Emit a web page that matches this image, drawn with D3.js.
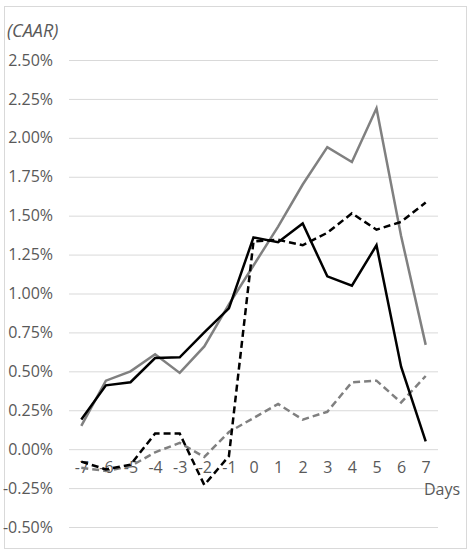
<!DOCTYPE html>
<html>
<head>
<meta charset="utf-8">
<script src="https://cdn.jsdelivr.net/npm/d3@7"></script>
<style>
  body { margin: 0; background: #fff; }
  svg { display: block; }
</style>
</head>
<body>
<div id="chart-area"></div>
<script>
// data (CAAR in %)
const days = [-7, -6, -5, -4, -3, -2, -1, 0, 1, 2, 3, 4, 5, 6, 7];
const blackSolid = [0.19, 0.41, 0.43, 0.585, 0.59, 0.75, 0.905, 1.36, 1.33, 1.45, 1.11, 1.05, 1.31, 0.53, 0.05];
const graySolid = [0.15, 0.44, 0.50, 0.61, 0.49, 0.66, 0.93, 1.18, 1.43, 1.70, 1.94, 1.845, 2.19, 1.37, 0.67];
const blackDashed = [-0.08, -0.13, -0.10, 0.10, 0.10, -0.23, -0.045, 1.335, 1.345, 1.31, 1.39, 1.515, 1.41, 1.46, 1.585];
const grayDashed = [-0.12, -0.14, -0.11, -0.02, 0.04, -0.05, 0.11, 0.20, 0.29, 0.19, 0.24, 0.43, 0.44, 0.30, 0.47];
const yTicks = [-0.5, -0.25, 0, 0.25, 0.5, 0.75, 1.0, 1.25, 1.5, 1.75, 2.0, 2.25, 2.5];

const WIDTH = 469, HEIGHT = 551;
const PLOT = { LEFT: 69, RIGHT: 438, TOP: 60, BOTTOM: 527 };
const FONT = "'Open Sans', 'Liberation Sans', sans-serif";
const TEXT_COLOR = "#595959";

const svg = d3.select("#chart-area")
  .append("svg")
    .attr("width", WIDTH)
    .attr("height", HEIGHT);

// chart border
svg.append("rect")
  .attr("x", 4.5).attr("y", 6.5)
  .attr("width", 462).attr("height", 542)
  .attr("fill", "#fff")
  .attr("stroke", "#d9d9d9");

// scales
const x = d3.scalePoint()
  .domain(days)
  .range([PLOT.LEFT, PLOT.RIGHT])
  .padding(0.5);

const y = d3.scaleLinear()
  .domain([-0.5, 2.5])
  .range([PLOT.BOTTOM, PLOT.TOP]);

// gridlines + y labels
const yAxisCall = d3.axisLeft(y)
  .tickValues(yTicks)
  .tickSize(-(PLOT.RIGHT - PLOT.LEFT))
  .tickPadding(16)
  .tickFormat(d => d.toFixed(2) + "%");

const yAxis = svg.append("g")
  .attr("class", "y-axis")
  .attr("transform", `translate(${PLOT.LEFT}, 0)`)
  .call(yAxisCall);
yAxis.select(".domain").remove();
yAxis.selectAll("line").attr("stroke", "#d9d9d9").attr("stroke-width", 1);
yAxis.selectAll("text")
  .attr("font-family", FONT)
  .attr("font-size", "16px")
  .attr("fill", TEXT_COLOR);

// x labels sit just under the zero line
const xAxisCall = d3.axisBottom(x).tickSize(0).tickPadding(12);
const xAxis = svg.append("g")
  .attr("class", "x-axis")
  .attr("transform", `translate(0, ${y(0)})`)
  .call(xAxisCall);
xAxis.select(".domain").remove();
xAxis.selectAll("text")
  .attr("font-family", FONT)
  .attr("font-size", "16px")
  .attr("fill", TEXT_COLOR);

// axis titles
svg.append("text")
  .attr("x", 7)
  .attr("y", 37)
  .attr("font-family", FONT)
  .attr("font-size", "18px")
  .attr("font-style", "italic")
  .attr("fill", TEXT_COLOR)
  .text("(CAAR)");

svg.append("text")
  .attr("x", 424)
  .attr("y", 495)
  .attr("font-family", FONT)
  .attr("font-size", "16px")
  .attr("fill", TEXT_COLOR)
  .text("Days");

// lines
const line = d3.line()
  .x((d, i) => x(days[i]))
  .y(d => y(d));

const series = [
  { values: grayDashed, color: "#808080", dash: "7,4" },
  { values: graySolid, color: "#808080", dash: null },
  { values: blackDashed, color: "#000000", dash: "7,4" },
  { values: blackSolid, color: "#000000", dash: null }
];

svg.selectAll(".series")
  .data(series)
  .enter()
  .append("path")
    .attr("class", "series")
    .attr("d", s => line(s.values))
    .attr("fill", "none")
    .attr("stroke", s => s.color)
    .attr("stroke-width", 2.5)
    .attr("stroke-dasharray", s => s.dash)
    .attr("stroke-linejoin", "miter");
</script>
</body>
</html>
